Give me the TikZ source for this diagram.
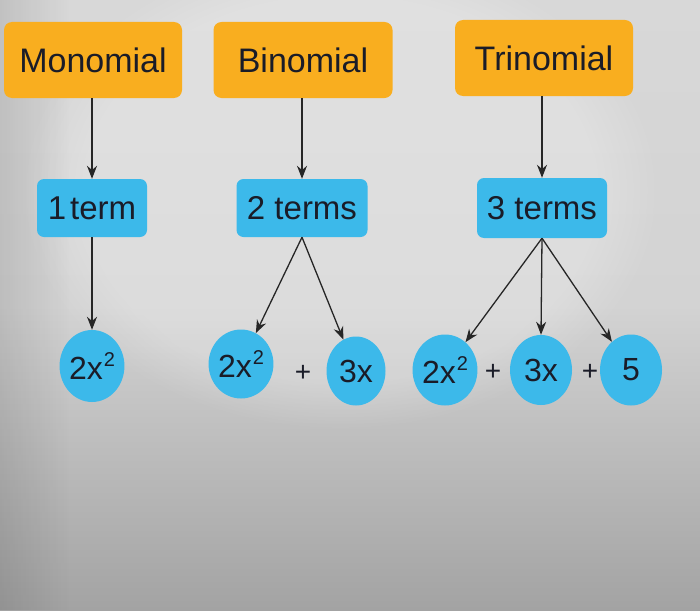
\documentclass[tikz,border=0pt]{standalone}
\usepackage{fontspec}
\setmainfont{Liberation Sans}
\usetikzlibrary{arrows.meta,shapes.geometric,fadings}
\definecolor{bgtop}{HTML}{D8D8D8}
\definecolor{bgmid}{HTML}{D3D3D3}
\definecolor{bgbot}{HTML}{A3A3A3}
\definecolor{orangebox}{HTML}{F9AE1F}
\definecolor{bluebox}{HTML}{3CB9EA}
\definecolor{txt}{HTML}{1A1C28}
\begin{document}
\begin{tikzpicture}[x=1pt,y=-1pt,
  topbox/.style={fill=orangebox,rounded corners=8pt,minimum width=178pt,minimum height=76pt,inner sep=0pt,text=txt,font=\fontsize{34}{36}\selectfont},
  midbox/.style={fill=bluebox,rounded corners=7pt,minimum height=58pt,inner sep=0pt,text=txt,font=\fontsize{33}{35}\selectfont},
  term/.style={ellipse,fill=bluebox,inner sep=0pt,text=txt,font=\fontsize{32}{34}\selectfont},
  plussign/.style={text=txt,inner sep=0pt,font=\fontsize{28}{30}\selectfont},
  arr/.style={-{Stealth[length=13pt,width=10pt]},line width=1.3pt,black!85}
]
\newcommand{\sqx}{2x\kern0.03em\raisebox{0.42em}{\fontsize{20}{22}\selectfont 2}}
\useasboundingbox (0,0) rectangle (700,610);
\shade[top color=bgtop,bottom color=bgbot,middle color=bgmid] (0,0) rectangle (700,610);
\fill[white,opacity=0.22,path fading=circle with fuzzy edge 20 percent] (340,190) ellipse (320pt and 240pt);
\fill[black,opacity=0.10,path fading=east] (0,0) rectangle (70,610);

\node[topbox] (mono) at (93,60) {Monomial};
\node[topbox,minimum width=179pt] (bino) at (303,60) {Binomial};
\node[topbox] (tri) at (544,58) {Trinomial};

\node[midbox,minimum width=110pt] (m1) at (92,208) {1\kern0.12em term};
\node[midbox,minimum width=131pt] (m2) at (302,208) {2 terms};
\node[midbox,minimum width=130pt,minimum height=60pt] (m3) at (542,208) {3 terms};

\node[term,minimum width=59pt,minimum height=72pt] (c1) at (92,366) {\sqx};
\node[term,minimum width=58pt,minimum height=69pt] (b1) at (241,364) {\sqx};
\node[plussign] (bp) at (303,373) {+};
\node[term,minimum width=59pt,minimum height=69pt] (b2) at (356,371) {3x};
\node[term,minimum width=60pt,minimum height=71pt] (t1) at (445,370) {\sqx};
\node[plussign] (tp1) at (493,372) {+};
\node[term,minimum width=62pt,minimum height=70pt] (t2) at (541,370) {3x};
\node[plussign] (tp2) at (590,372) {+};
\node[term,minimum width=62pt,minimum height=71pt] (t3) at (631,370) {5};

\draw[arr] (mono.south -| m1.north) -- (m1.north);
\draw[arr] (bino.south -| m2.north) -- (m2.north);
\draw[arr] (tri.south -| m3.north) -- (m3.north);

\draw[arr] (m1.south) -- (c1.north);
\draw[arr] (m2.south) -- (b1);
\draw[arr] (m2.south) -- (b2);
\draw[arr] (m3.south) -- (t1);
\draw[arr] (m3.south) -- (t2.north);
\draw[arr] (m3.south) -- (t3);
\end{tikzpicture}
\end{document}
